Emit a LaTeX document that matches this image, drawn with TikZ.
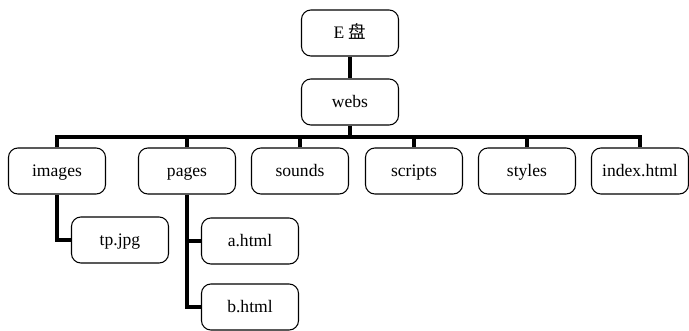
\documentclass[tikz,border=0pt]{standalone}
\usepackage{fontspec}
\setmainfont{Liberation Serif}
\newfontfamily\cjk{Noto Sans CJK SC}
\usepackage{tikz}

\begin{document}
\begin{tikzpicture}[x=0.03cm,y=-0.03cm,
  dir/.style={draw,line width=0.9pt,rounded corners=8,minimum width=2.91cm,minimum height=1.38cm,
    text height=2.2ex,text depth=0.3ex,font=\fontsize{15}{18}\selectfont},
  link/.style={line width=3pt}]
\useasboundingbox (0,0) rectangle (689,331);
% drive and root folder
\node[dir] (disk) at (350,33) {E {\cjk 盘}};
\node[dir] (webs) at (350,102) {webs};
% first level
\node[dir] (images) at (57,171) {images};
\node[dir] (pages) at (187,171) {pages};
\node[dir] (sounds) at (300,171) {sounds};
\node[dir] (scripts) at (414,171) {scripts};
\node[dir] (styles) at (527,171) {styles};
\node[dir] (index) at (640,171) {index.html};
% files
\node[dir] (tp) at (120,240) {tp.jpg};
\node[dir] (ahtml) at (250,241) {a.html};
\node[dir] (bhtml) at (250,307) {b.html};
% links
\coordinate (bus) at (350,137);
\draw[link] (disk) -- (webs);
\draw[link] (webs) -- (bus);
\draw[link] (images.north) |- (bus) -| (index.north);
\foreach \n in {pages,sounds,scripts,styles}
  \draw[link] (\n.north) -- (\n.north |- bus);
\draw[link] (images.south) |- (tp.west);
\draw[link] (pages.south) |- (bhtml.west);
\draw[link] (pages.south |- ahtml.west) -- (ahtml.west);
\end{tikzpicture}
\end{document}
